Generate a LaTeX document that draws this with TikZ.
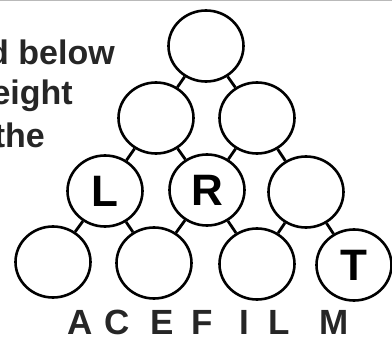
\documentclass[tikz,border=0pt]{standalone}
\usepackage{fontspec}
\setmainfont{Liberation Sans}
\usetikzlibrary{shapes.geometric}
\begin{document}
\begin{tikzpicture}[x=1pt,y=-1pt,
  ring/.style={draw,ellipse,line width=2.6pt,minimum width=75pt,minimum height=71pt,inner sep=0pt,
    font=\fontsize{44}{44}\selectfont\bfseries},
  link/.style={line width=2.8pt},
  para/.style={inner sep=0pt,font=\fontsize{34}{34}\selectfont\bfseries,text=black!85},
  letter/.style={inner sep=0pt,font=\fontsize{35}{35}\selectfont\bfseries,text=black!85}]
\useasboundingbox (0,0) rectangle (392,337);
\clip (0,0) rectangle (392,337);
\fill[white] (0,0) rectangle (392,337);
\draw[gray!55,line width=2pt] (0,0.5) coordinate (tl) -- (392,0.5) coordinate (tr);
% text
\node[para,anchor=base east] (t1) at (115,65) {d below};
\node[para,anchor=base east] (t2) at (73,105) {eight};
\node[para,anchor=base east] (t3) at (45,148) {the};
% circles
\node[ring] (a) at (206,46) {};
\node[ring] (b1) at (156,118) {};
\node[ring] (b2) at (257,118) {};
\node[ring] (c1) at (105,191) {L};
\node[ring] (c2) at (207,190) {R};
\node[ring] (c3) at (306,192) {};
\node[ring] (d1) at (53,262) {};
\node[ring] (d2) at (154,263) {};
\node[ring] (d3) at (257,264) {};
\node[ring] (d4) at (354,265) {T};
% links
\draw[link] (a) -- (b1);
\draw[link] (a) -- (b2);
\draw[link] (b1) -- (c1);
\draw[link] (b1) -- (c2);
\draw[link] (b2) -- (c2);
\draw[link] (b2) -- (c3);
\draw[link] (c1) -- (d1);
\draw[link] (c1) -- (d2);
\draw[link] (c2) -- (d2);
\draw[link] (c2) -- (d3);
\draw[link] (c3) -- (d3);
\draw[link] (c3) -- (d4);
% bottom letters
\node[letter,anchor=base] (lA) at (80,335) {A};
\node[letter,anchor=base] (lC) at (117,335) {C};
\node[letter,anchor=base] (lE) at (162,335) {E};
\node[letter,anchor=base] (lF) at (202,335) {F};
\node[letter,anchor=base] (lI) at (244,335) {I};
\node[letter,anchor=base] (lL) at (279,335) {L};
\node[letter,anchor=base] (lM) at (334,335) {M};
\end{tikzpicture}
\end{document}
